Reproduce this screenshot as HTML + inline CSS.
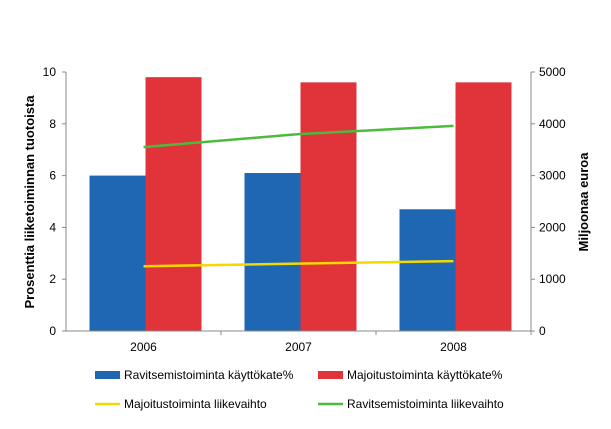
<!DOCTYPE html>
<html><head><meta charset="utf-8"><style>
body{margin:0;background:#fff;font-family:"Liberation Sans",Arial,sans-serif}
svg text{font-family:"Liberation Sans",Arial,sans-serif}
</style></head><body>
<svg id="chart" width="611" height="424" xmlns="http://www.w3.org/2000/svg"></svg>
<script>
const categories=["2006","2007","2008"];
const raviKayttokate=[6.0,6.1,4.7];
const majoKayttokate=[9.8,9.6,9.6];
const majoLiikevaihto=[1250,1300,1350];
const raviLiikevaihto=[3550,3800,3960];
const leftTicks=[0,2,4,6,8,10];
const rightTicks=[0,1000,2000,3000,4000,5000];
const NS="http://www.w3.org/2000/svg";
const svg=document.getElementById('chart');
const L=66,R=531,T=72,B=331;
const yL=v=>B-(v/10)*(B-T);
const yR=v=>B-(v/5000)*(B-T);
const cw=(R-L)/categories.length;
const xC=i=>L+cw*(i+0.5);
function mk(tag,attrs,txt){const e=document.createElementNS(NS,tag);for(const k in attrs)e.setAttribute(k,attrs[k]);if(txt!==undefined)e.textContent=txt;svg.appendChild(e);return e;}
// bars
categories.forEach((c,i)=>{
  const b=mk('rect',{x:xC(i)-54,y:yL(raviKayttokate[i]),width:56,height:B-yL(raviKayttokate[i]),fill:'#1f66b3'});
  
  
  const r=mk('rect',{x:xC(i)+2,y:yL(majoKayttokate[i]),width:56,height:B-yL(majoKayttokate[i]),fill:'#e0333a'});
  
  
});
// axes
const ax=mk('path',{d:`M${L},${T}V${B}H${R}V${T}`,stroke:'#888',fill:'none','stroke-width':1});


leftTicks.forEach(v=>{
  mk('line',{x1:L-4,x2:L,y1:yL(v),y2:yL(v),stroke:'#888'});
  const t=mk('text',{x:L-10,y:yL(v)+4,'text-anchor':'end','font-size':12},String(v));
  
  
});
rightTicks.forEach(v=>{
  mk('line',{x1:R,x2:R+4,y1:yR(v),y2:yR(v),stroke:'#888'});
  const t=mk('text',{x:R+8,y:yR(v)+4,'font-size':12},String(v));
  
  
});
categories.forEach((c,i)=>{
  mk('line',{x1:L+cw*(i+1),x2:L+cw*(i+1),y1:B,y2:B+4,stroke:'#888'});
  const t=mk('text',{x:xC(i),y:B+20,'text-anchor':'middle','font-size':12},c);
  
  
});
// lines
const ly=mk('polyline',{points:majoLiikevaihto.map((v,i)=>xC(i)+','+yR(v)).join(' '),stroke:'#f5d800',fill:'none','stroke-width':2.5});


const lg=mk('polyline',{points:raviLiikevaihto.map((v,i)=>xC(i)+','+yR(v)).join(' '),stroke:'#4cbb3c',fill:'none','stroke-width':2.5});


// titles
const yt=mk('text',{transform:'translate(34,202) rotate(-90)','text-anchor':'middle','font-size':13,'font-weight':'bold'},'Prosenttia liiketoiminnan tuotoista');


const yt2=mk('text',{transform:'translate(588,202) rotate(-90)','text-anchor':'middle','font-size':13,'font-weight':'bold'},'Miljoonaa euroa');


// legend
const leg=[
 {x:95,y:375,type:'rect',c:'#1f66b3',t:'Ravitsemistoiminta käyttökate%'},
 {x:318,y:375,type:'rect',c:'#e0333a',t:'Majoitustoiminta käyttökate%'},
 {x:95,y:404,type:'line',c:'#f5d800',t:'Majoitustoiminta liikevaihto'},
 {x:318,y:404,type:'line',c:'#4cbb3c',t:'Ravitsemistoiminta liikevaihto'}];
leg.forEach(l=>{
  if(l.type==='rect')mk('rect',{x:l.x,y:l.y-4,width:25,height:8,fill:l.c});
  else mk('line',{x1:l.x,x2:l.x+25,y1:l.y,y2:l.y,stroke:l.c,'stroke-width':2.5});
  const t=mk('text',{x:l.x+29,y:l.y+4,'font-size':12},l.t);
  
  
});
</script>
</body></html>
